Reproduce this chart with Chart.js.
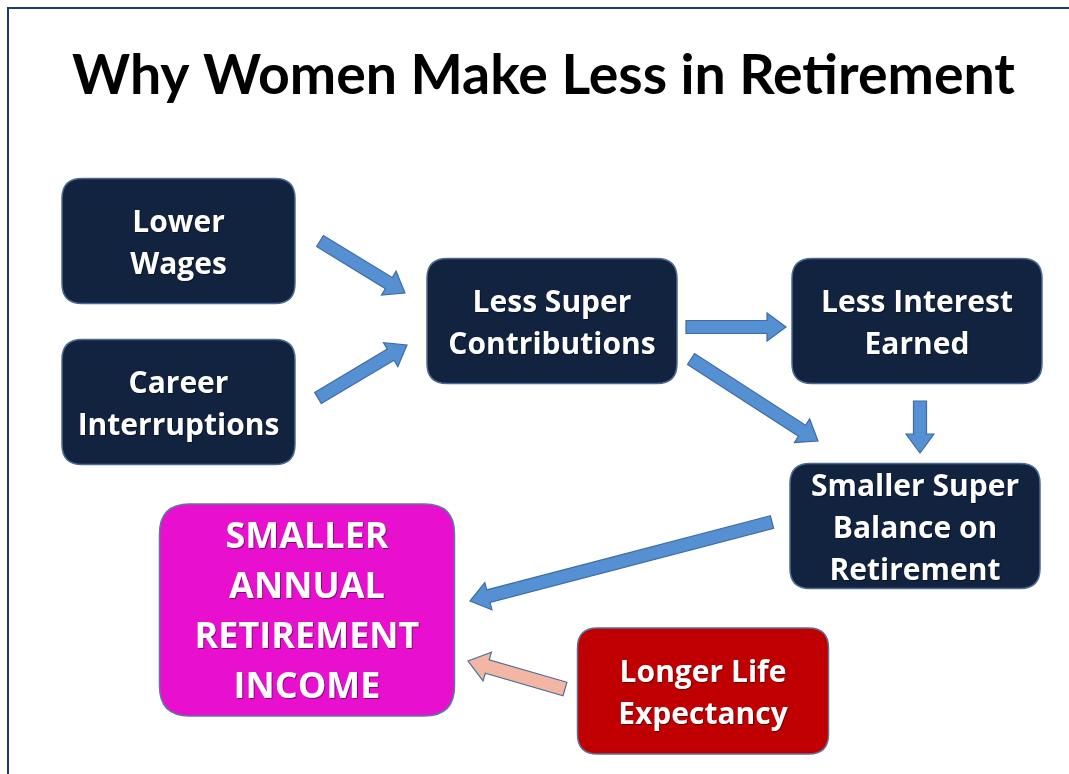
<!DOCTYPE html>
<html>
<head>
<meta charset="utf-8">
<script src="https://cdn.jsdelivr.net/npm/chart.js"></script>
<style>
  html, body { margin: 0; padding: 0; background: #fff; }
  #wrap { width: 1069px; height: 774px; }
</style>
</head>
<body>
<div id="wrap"><canvas id="myChart_1" width="1069" height="774"></canvas></div>
<script>
// diagram content, in chart units (x: 0..1069, y: 0..774 top-down)
const titleText = "Why Women Make Less in Retirement";
const nodeLabels = [
  ["Lower", "Wages"],
  ["Career", "Interruptions"],
  ["Less Super", "Contributions"],
  ["Less Interest", "Earned"],
  ["Smaller Super", "Balance on", "Retirement"],
  ["SMALLER", "ANNUAL", "RETIREMENT", "INCOME"],
  ["Longer Life", "Expectancy"]
];
const nodeX = [178.5, 178.5, 552, 917, 915, 307, 703];
const nodeY = [241, 402, 321, 321, 526, 610, 691];
const nodeKind = ["side", "side", "cause", "cause", "cause", "result", "risk"];

// arrows: start and tip points
const arrowFrom = [[320, 241], [318, 398], [686, 327], [691, 359], [920, 401], [772, 522], [565, 689]];
const arrowTo   = [[405, 293], [407, 345], [786, 327], [818, 441], [920, 453], [470, 601], [468, 661]];
const arrowKind = ["blue", "blue", "blue", "blue", "blue", "blue", "pink"];

const boxSize = {
  side:   { w: 233, h: 125, r: 20, fill: "#12233f", stroke: "#4c6a95", font: 30, lh: 42, face: "'Open Sans'" },
  cause:  { w: 250, h: 125, r: 20, fill: "#12233f", stroke: "#4c6a95", font: 30, lh: 42, face: "'Open Sans'" },
  result: { w: 295, h: 212, r: 30, fill: "#e80fcf", stroke: "#5b78a8", font: 36, lh: 50, face: "'Open Sans'" },
  risk:   { w: 251, h: 126, r: 20, fill: "#c00000", stroke: "#5b6f92", font: 30, lh: 42, face: "'Open Sans'" }
};
const arrowStyle = {
  blue: { fill: "#5590d3", stroke: "#3f6ca6", shaft: 13, head: 28, len: 19 },
  pink: { fill: "#f3b5a4", stroke: "#4f6f9a", shaft: 14, head: 30, len: 20 }
};
const TITLE_FONT = "Lato, 'Open Sans', sans-serif";

function roundRect(ctx, x, y, w, h, r) {
  ctx.beginPath();
  ctx.moveTo(x + r, y);
  ctx.lineTo(x + w - r, y);
  ctx.quadraticCurveTo(x + w, y, x + w, y + r);
  ctx.lineTo(x + w, y + h - r);
  ctx.quadraticCurveTo(x + w, y + h, x + w - r, y + h);
  ctx.lineTo(x + r, y + h);
  ctx.quadraticCurveTo(x, y + h, x, y + h - r);
  ctx.lineTo(x, y + r);
  ctx.quadraticCurveTo(x, y, x + r, y);
  ctx.closePath();
}

function blockArrow(ctx, x0, y0, x1, y1, st) {
  const dx = x1 - x0, dy = y1 - y0;
  const L = Math.hypot(dx, dy);
  const ux = dx / L, uy = dy / L;
  const nx = -uy, ny = ux;
  const bx = x1 - ux * st.len, by = y1 - uy * st.len;
  const s = st.shaft / 2, h = st.head / 2;
  ctx.beginPath();
  ctx.moveTo(x0 + nx * s, y0 + ny * s);
  ctx.lineTo(bx + nx * s, by + ny * s);
  ctx.lineTo(bx + nx * h, by + ny * h);
  ctx.lineTo(x1, y1);
  ctx.lineTo(bx - nx * h, by - ny * h);
  ctx.lineTo(bx - nx * s, by - ny * s);
  ctx.lineTo(x0 - nx * s, y0 - ny * s);
  ctx.closePath();
  ctx.fillStyle = st.fill;
  ctx.fill();
  ctx.lineWidth = 1.2;
  ctx.strokeStyle = st.stroke;
  ctx.stroke();
}

const flowPlugin = {
  id: "flow",
  beforeDraw(chart) {
    const ctx = chart.ctx;
    ctx.save();
    ctx.fillStyle = "#ffffff";
    ctx.fillRect(0, 0, chart.width, chart.height);
    // slide frame
    ctx.strokeStyle = "#1b3a78";
    ctx.lineWidth = 2;
    ctx.beginPath();
    ctx.moveTo(8, chart.height);
    ctx.lineTo(8, 8);
    ctx.lineTo(chart.width, 8);
    ctx.stroke();
    ctx.restore();
  },
  afterDatasetsDraw(chart) {
    const ctx = chart.ctx;
    const xs = chart.scales.x, ys = chart.scales.y;
    ctx.save();

    // title
    let fs = 56;
    ctx.font = "bold " + fs + "px " + TITLE_FONT;
    const tw = ctx.measureText(titleText).width;
    fs = fs * 943 / tw;
    ctx.font = "bold " + fs + "px " + TITLE_FONT;
    ctx.fillStyle = "#000000";
    ctx.textAlign = "center";
    ctx.textBaseline = "alphabetic";
    ctx.fillText(titleText, xs.getPixelForValue(543.5), ys.getPixelForValue(94));

    // arrows
    for (let i = 0; i < arrowFrom.length; i++) {
      blockArrow(ctx,
        xs.getPixelForValue(arrowFrom[i][0]), ys.getPixelForValue(arrowFrom[i][1]),
        xs.getPixelForValue(arrowTo[i][0]), ys.getPixelForValue(arrowTo[i][1]),
        arrowStyle[arrowKind[i]]);
    }

    // boxes
    const meta = chart.getDatasetMeta(0);
    meta.data.forEach((pt, i) => {
      const st = boxSize[nodeKind[i]];
      const x0 = xs.getPixelForValue(nodeX[i] - st.w / 2);
      const x1 = xs.getPixelForValue(nodeX[i] + st.w / 2);
      const y0 = ys.getPixelForValue(nodeY[i] - st.h / 2);
      const y1 = ys.getPixelForValue(nodeY[i] + st.h / 2);
      roundRect(ctx, x0, y0, x1 - x0, y1 - y0, st.r);
      ctx.fillStyle = st.fill;
      ctx.fill();
      ctx.lineWidth = 1.5;
      ctx.strokeStyle = st.stroke;
      ctx.stroke();

      const lines = nodeLabels[i];
      ctx.font = "bold " + st.font + "px " + st.face + ", Lato, sans-serif";
      ctx.textAlign = "center";
      ctx.textBaseline = "middle";
      lines.forEach((t, k) => {
        const ty = pt.y + 3 + (k - (lines.length - 1) / 2) * st.lh;
        ctx.fillStyle = "rgba(0,0,0,0.45)";
        ctx.fillText(t, pt.x + 1, ty + 1);
        ctx.fillStyle = "#ffffff";
        ctx.fillText(t, pt.x, ty);
      });
    });
    ctx.restore();
  }
};

const ctx = document.getElementById("myChart_1").getContext("2d");
const config = {
  type: "scatter",
  data: {
    datasets: [
      {
        label: "nodes",
        data: nodeX.map((x, i) => ({ x: x, y: nodeY[i] })),
        pointRadius: 0,
        showLine: false
      }
    ]
  },
  options: {
    responsive: false,
    animation: false,
    layout: { padding: 0 },
    plugins: { legend: { display: false }, tooltip: { enabled: false }, title: { display: false } },
    scales: {
      x: { type: "linear", min: 0, max: 1069, display: false },
      y: { type: "linear", min: 0, max: 774, reverse: true, display: false }
    }
  },
  plugins: [flowPlugin]
};
const myChart_1 = new Chart(ctx, config);
</script>
</body>
</html>
